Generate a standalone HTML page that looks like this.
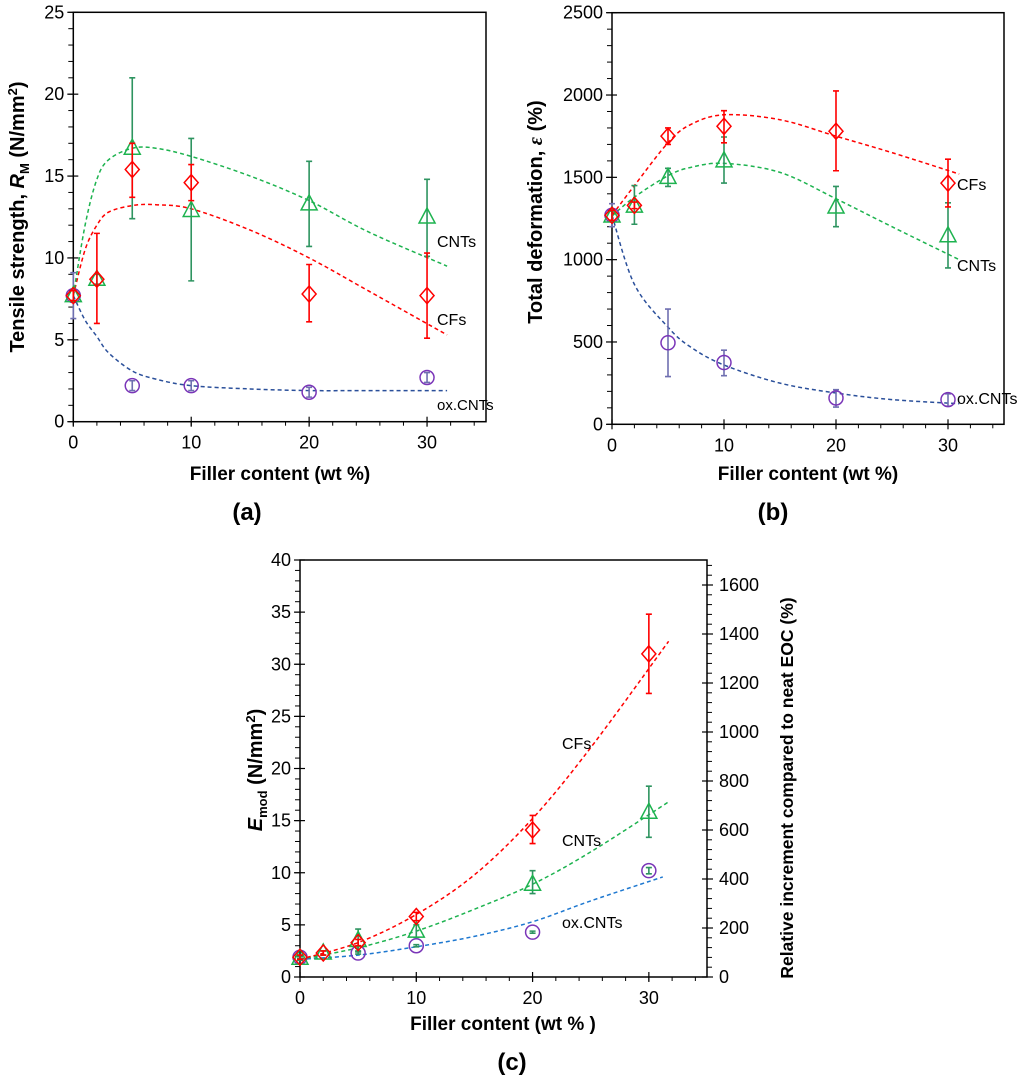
<!DOCTYPE html>
<html><head><meta charset="utf-8"><style>
body{margin:0;background:#fff;width:1024px;height:1082px;overflow:hidden}
svg{display:block}
text{font-family:"Liberation Sans",Arial,sans-serif}
</style></head><body>
<svg id="fig" width="1024" height="1082" viewBox="0 0 1024 1082" xmlns="http://www.w3.org/2000/svg"></svg>
<script>
// ---- Panel (a) data ----
const aX = [0,2,5,10,20,30];
const aXox = [0,5,10,20,30];
const aCNT = [7.7,8.7,16.7,12.9,13.3,12.5];
const aCNTlo = [7.4,8.4,12.4,8.6,10.7,10.1];
const aCNThi = [8.0,9.0,21.0,17.3,15.9,14.8];
const aCF = [7.7,8.7,15.4,14.6,7.8,7.7];
const aCFlo = [7.4,6.0,13.7,13.5,6.1,5.1];
const aCFhi = [8.0,11.5,17.0,15.7,9.6,10.3];
const aOX = [7.7,2.2,2.2,1.8,2.7];
const aOXlo = [6.3,1.9,1.9,1.5,2.4];
const aOXhi = [9.1,2.5,2.5,2.1,3.0];
const aFitX = [0,1,2,3,5,7,10,15,20,25,31.7];
const aFitCNT = [7.7,12,14.8,16,16.7,16.7,16.2,15.0,13.5,11.6,9.5];
const aFitCF = [7.7,10.5,12,12.8,13.2,13.25,13.0,11.7,10,8,5.3];
const aFitOX = [7.7,6.2,5.2,4.2,3.1,2.6,2.2,2.0,1.9,1.9,1.9];
const aYTicks = [0,5,10,15,20,25];
const xTicks = [0,10,20,30];
// ---- Panel (b) data ----
const bCF = [1270,1330,1750,1810,1780,1465];
const bCFlo = [1240,1310,1700,1710,1540,1320];
const bCFhi = [1300,1350,1800,1905,2025,1610];
const bCNT = [1265,1325,1500,1600,1320,1145];
const bCNTlo = [1235,1215,1445,1465,1200,950];
const bCNThi = [1295,1450,1555,1745,1445,1345];
const bOX = [1270,495,375,160,150];
const bOXlo = [1200,290,295,105,110];
const bOXhi = [1340,700,450,210,185];
const bFitX = [0,2,5,7,10,15,20,25,31];
const bFitCF = [1270,1450,1710,1820,1880,1850,1750,1650,1520];
const bFitCNT = [1265,1380,1510,1560,1585,1530,1370,1200,1000];
const bFitOX = [1270,850,590,470,360,250,190,150,125];
const bYTicks = [0,500,1000,1500,2000,2500];
// ---- Panel (c) data ----
const cCF = [1.9,2.3,3.3,5.8,14.1,31.0];
const cCFlo = [1.7,2.1,3.0,5.4,12.8,27.2];
const cCFhi = [2.1,2.5,3.6,6.2,15.5,34.8];
const cCNT = [1.8,2.3,3.5,4.4,8.9,15.8];
const cCNTlo = [1.6,2.1,2.5,3.8,8.0,13.4];
const cCNThi = [2.0,2.5,4.6,5.0,10.2,18.3];
const cOX = [1.9,2.3,3.0,4.3,10.2];
const cOXlo = [1.8,2.2,2.9,4.2,9.9];
const cOXhi = [2.0,2.4,3.1,4.4,10.5];
const cFitX = [0,5,10,15,20,25,31.7];
const cFitCF = [1.7,3.3,6.0,9.8,15.2,22,32.2];
const cFitCNT = [1.7,2.8,4.4,6.5,8.9,12,16.8];
const cFitOXx = [0,5,10,15,20,25,31.2];
const cFitOX = [1.7,2.1,2.9,3.9,5.3,7.3,9.6];
const cYTicks = [0,5,10,15,20,25,30,35,40];
const cY2Ticks = [0,200,400,600,800,1000,1200,1400,1600];

const NS="http://www.w3.org/2000/svg";
const svg=document.getElementById('fig');
function mk(tag,attrs,parent){const e=document.createElementNS(NS,tag);for(const k in attrs)e.setAttribute(k,attrs[k]);(parent||svg).appendChild(e);return e;}
const RED="#ff0000", GRN="#1db34f", GRNE="#2e9460", PUR="#7a35b8";

function panel(P){
  const g=mk('g',{});
  
  
  const sx=v=>P.x0+(v-0)/(35)*(P.x1-P.x0);
  const sy=v=>P.y0-(v/P.ymax)*(P.y0-P.y1);
  P.sx=sx;P.sy=sy;
  const fr=mk('rect',{x:P.x0,y:P.y1,width:P.x1-P.x0,height:P.y0-P.y1,fill:'none',stroke:'#000','stroke-width':1.5},g);
  
  
  for(let v=0;v<=34;v+=2){const X=sx(v);mk('line',{x1:X,x2:X,y1:P.y0,y2:P.y0+4,stroke:'#000','stroke-width':1},g);}
  xTicks.forEach(v=>{const X=sx(v);mk('line',{x1:X,x2:X,y1:P.y0-5,y2:P.y0+5,stroke:'#000','stroke-width':1.2},g);
    const t=mk('text',{x:X,y:P.y0+27,'text-anchor':'middle','font-size':18},g);t.textContent=v;
    });
  for(let i=0;i<=P.nMinor;i++){const Y=P.y0-i*(P.y0-P.y1)/P.nMinor;mk('line',{x1:P.x0-5,x2:P.x0,y1:Y,y2:Y,stroke:'#000','stroke-width':1},g);}
  P.yTicks.forEach(v=>{const Y=sy(v);mk('line',{x1:P.x0-6,x2:P.x0+5,y1:Y,y2:Y,stroke:'#000','stroke-width':1.2},g);
    const t=mk('text',{x:P.x0-9,y:Y+6,'text-anchor':'end','font-size':18},g);t.textContent=v;
    });
  return g;
}
function curve(P,g,xs,ys,col,name){
  const pts=xs.map((x,i)=>[P.sx(x),P.sy(ys[i])]);
  let d='M'+pts[0][0]+','+pts[0][1];
  for(let i=0;i<pts.length-1;i++){
    const p0=pts[i-1]||pts[i],p1=pts[i],p2=pts[i+1],p3=pts[i+2]||p2;
    const c1=[p1[0]+(p2[0]-p0[0])/6,p1[1]+(p2[1]-p0[1])/6],c2=[p2[0]-(p3[0]-p1[0])/6,p2[1]-(p3[1]-p1[1])/6];
    d+=' C'+c1+' '+c2+' '+p2;
  }
  const e=mk('path',{d:d,fill:'none',stroke:col,'stroke-width':1.5,'stroke-dasharray':'4,3'},g);
  
  
}
function series(P,g,xs,ys,lo,hi,shape,col,ecol,name){
  xs.forEach((x,i)=>{
    const X=P.sx(x),Y=P.sy(ys[i]),L=P.sy(lo[i]),H=P.sy(hi[i]);
    const eb=mk('path',{d:`M${X},${L}V${H}M${X-3},${L}H${X+3}M${X-3},${H}H${X+3}`,stroke:ecol,'stroke-width':1.6,fill:'none'},g);
    
    
    let m;
    if(shape==='d')m=mk('path',{d:`M${X},${Y-8}L${X+7},${Y}L${X},${Y+8}L${X-7},${Y}Z`},g);
    else if(shape==='t')m=mk('path',{d:`M${X},${Y-9}L${X+8},${Y+6}L${X-8},${Y+6}Z`},g);
    else m=mk('circle',{cx:X,cy:Y,r:7},g);
    m.setAttribute('fill','none');m.setAttribute('stroke',col);m.setAttribute('stroke-width',1.5);
    
    
  });
}
function label(g,x,y,s,name,size,extra){const t=mk('text',Object.assign({x:x,y:y,'font-size':size||17},extra||{}),g);t.textContent=s;
  return t;}

// Panel a
const PA={name:'panel-a-tensile-strength',x0:73.3,x1:486,y0:421.7,y1:12.3,ymax:25,yTicks:aYTicks,nMinor:25};
const ga=panel(PA);
curve(PA,ga,aFitX,aFitOX,'#2a4f9a','fit-oxcnts');
curve(PA,ga,aFitX,aFitCF,RED,'fit-cfs');
curve(PA,ga,aFitX,aFitCNT,GRN,'fit-cnts');
series(PA,ga,aXox,aOX,aOXlo,aOXhi,'c',PUR,'#6f6fb0','oxcnts');
series(PA,ga,aX,aCNT,aCNTlo,aCNThi,'t',GRN,GRNE,'cnts');
series(PA,ga,aX,aCF,aCFlo,aCFhi,'d',RED,RED,'cfs');
label(ga,437,247,'CNTs','label-cnts',16);
label(ga,437,325,'CFs','label-cfs',16);
label(ga,437,410,'ox.CNTs','label-oxcnts',15);
label(ga,280,480,'Filler content (wt %)','x-axis-title',19,{'text-anchor':'middle','font-weight':'bold'});
{const t=mk('text',{transform:'translate(24,217) rotate(-90)','text-anchor':'middle','font-size':20,'font-weight':'bold'},ga);
 t.innerHTML='Tensile strength, <tspan font-style="italic">R</tspan><tspan font-size="13" dy="5">M</tspan><tspan dy="-5"> (N/mm</tspan><tspan font-size="13" dy="-7">2</tspan><tspan dy="7">)</tspan>';
 }
label(ga,247,520,'(a)','panel-label-a',24,{'text-anchor':'middle','font-weight':'bold','font-family':'Liberation Serif, serif'});

// Panel b
const PB={name:'panel-b-total-deformation',x0:612,x1:1004,y0:424.3,y1:12.7,ymax:2500,yTicks:bYTicks,nMinor:25};
const gb=panel(PB);
curve(PB,gb,bFitX,bFitOX,'#2a4f9a','fit-oxcnts');
curve(PB,gb,bFitX,bFitCNT,GRN,'fit-cnts');
curve(PB,gb,bFitX,bFitCF,RED,'fit-cfs');
series(PB,gb,aXox,bOX,bOXlo,bOXhi,'c',PUR,'#6f6fb0','oxcnts');
series(PB,gb,aX,bCNT,bCNTlo,bCNThi,'t',GRN,GRNE,'cnts');
series(PB,gb,aX,bCF,bCFlo,bCFhi,'d',RED,RED,'cfs');
label(gb,957,190,'CFs','label-cfs',16);
label(gb,957,271,'CNTs','label-cnts',16);
label(gb,957,404,'ox.CNTs','label-oxcnts',16);
label(gb,808,480,'Filler content (wt %)','x-axis-title',19,{'text-anchor':'middle','font-weight':'bold'});
{const t=mk('text',{transform:'translate(542,212) rotate(-90)','text-anchor':'middle','font-size':20,'font-weight':'bold'},gb);
 t.innerHTML='Total deformation, <tspan font-style="italic" font-family="Liberation Serif, serif">ε</tspan> (%)';
 }
label(gb,773,520,'(b)','panel-label-b',24,{'text-anchor':'middle','font-weight':'bold','font-family':'Liberation Serif, serif'});

// Panel c
const PC={name:'panel-c-modulus',x0:300,x1:707,y0:977,y1:560,ymax:40,yTicks:cYTicks,nMinor:40};
const gc=panel(PC);
const s2=v=>PC.y0-v/1600*(PC.y0-585);
for(let v=0;v<=1700;v+=40){const Y=s2(v);if(Y<PC.y1)break;mk('line',{x1:PC.x1,x2:PC.x1+5,y1:Y,y2:Y,stroke:'#000','stroke-width':1},gc);}
cY2Ticks.forEach(v=>{const Y=s2(v);mk('line',{x1:PC.x1-5,x2:PC.x1+6,y1:Y,y2:Y,stroke:'#000','stroke-width':1.2},gc);
  label(gc,PC.x1+12,Y+6,String(v),'y2-tick-label',18);});
curve(PC,gc,cFitOXx,cFitOX,'#1e78d0','fit-oxcnts');
curve(PC,gc,cFitX,cFitCNT,GRN,'fit-cnts');
curve(PC,gc,cFitX,cFitCF,RED,'fit-cfs');
series(PC,gc,aXox,cOX,cOXlo,cOXhi,'c',PUR,GRNE,'oxcnts');
series(PC,gc,aX,cCNT,cCNTlo,cCNThi,'t',GRN,GRNE,'cnts');
series(PC,gc,aX,cCF,cCFlo,cCFhi,'d',RED,RED,'cfs');
label(gc,562,749,'CFs','label-cfs',16);
label(gc,562,846,'CNTs','label-cnts',16);
label(gc,562,928,'ox.CNTs','label-oxcnts',16);
label(gc,503,1030,'Filler content (wt % )','x-axis-title',19,{'text-anchor':'middle','font-weight':'bold'});
{const t=mk('text',{transform:'translate(262,770) rotate(-90)','text-anchor':'middle','font-size':20,'font-weight':'bold'},gc);
 t.innerHTML='<tspan font-style="italic">E</tspan><tspan font-size="13" dy="5">mod</tspan><tspan dy="-5"> (N/mm</tspan><tspan font-size="13" dy="-7">2</tspan><tspan dy="7">)</tspan>';
 }
{const t=mk('text',{transform:'translate(793,788) rotate(-90)','text-anchor':'middle','font-size':17.5,'font-weight':'bold'},gc);
 t.textContent='Relative increment compared to neat EOC (%)';
 }
label(gc,512,1070,'(c)','panel-label-c',24,{'text-anchor':'middle','font-weight':'bold','font-family':'Liberation Serif, serif'});
</script>
</body></html>
